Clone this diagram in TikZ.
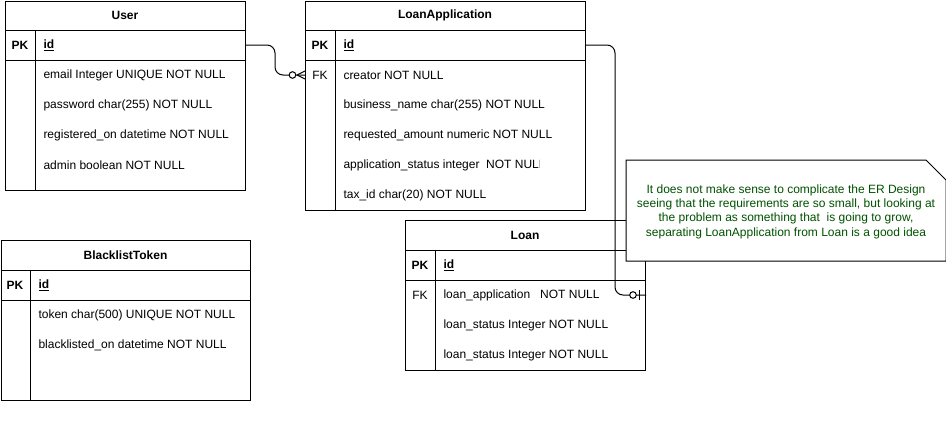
\documentclass[tikz,border=0pt]{standalone}
\usepackage{fontspec}
\setmainfont{Liberation Sans}
\definecolor{notegreen}{HTML}{005200}
\begin{document}
\begin{tikzpicture}[x=1pt,y=-1pt,line width=1pt,
  every node/.style={font=\fontsize{12}{14}\selectfont},
  tbl/.style={draw,rectangle,anchor=north west,inner sep=0pt,fill=white},
  ttl/.style={font=\fontsize{12}{14}\selectfont\bfseries,anchor=center,inner sep=0pt},
  keycol/.style={font=\fontsize{12}{14}\selectfont\bfseries,anchor=center,inner sep=0pt},
  fkcol/.style={anchor=center,inner sep=0pt},
  fld/.style={anchor=west,inner sep=0pt},
  conn/.style={line width=1pt,rounded corners=8pt},
  mk/.style={line width=1pt,fill=white}]
\useasboundingbox (0,0) rectangle (946,431);

% ---------- User ----------
\node[tbl,minimum width=240,minimum height=189] (user) at (5,1) {};
\draw (5,30) -- (245,30) (5,60) -- (245,60) (35,30) -- (35,190);
\node[ttl] (usert) at (125,15.5) {User};
\node[keycol] (userk) at (20,45.5) {PK};
\node[fld,font=\fontsize{12}{14}\selectfont\bfseries] (uid) at (43,45.5) {\underline{id}};
\node[fld] (u1) at (43,75.5) {email Integer UNIQUE NOT NULL};
\node[fld] (u2) at (43,105.5) {password char(255) NOT NULL};
\node[fld] (u3) at (43,135.5) {registered\_on datetime NOT NULL};
\node[fld] (u4) at (43,165.5) {admin boolean NOT NULL};

% ---------- LoanApplication ----------
\node[tbl,minimum width=280,minimum height=209] (la) at (305,1) {};
\draw (305,30) -- (585,30) (305,60) -- (585,60) (335,30) -- (335,210);
\node[ttl] (lat) at (445,15.5) {LoanApplication};
\node[keycol] (lak) at (320,45.5) {PK};
\node[fld,font=\fontsize{12}{14}\selectfont\bfseries] (laid) at (343,45.5) {\underline{id}};
\node[fkcol] (lafk) at (320,75.5) {FK};
\node[fld] (la1) at (343,75.5) {creator NOT NULL};
\node[fld] (la2) at (343,105.5) {business\_name char(255) NOT NULL};
\node[fld] (la3) at (343,135.5) {requested\_amount numeric NOT NULL};
\begin{scope}
\clip (336,150) rectangle (539.5,180);
\node[fld] (la4) at (343,165.5) {application\_status integer\ \ NOT NULL};
\end{scope}
\node[fld] (la5) at (343,195.5) {tax\_id char(20) NOT NULL};

% ---------- BlacklistToken ----------
\node[tbl,minimum width=249,minimum height=160] (bl) at (1,240) {};
\draw (1,270) -- (250,270) (1,300) -- (250,300) (30,270) -- (30,400);
\node[ttl] (blt) at (125.5,255.5) {BlacklistToken};
\node[keycol] (blk) at (15,285.5) {PK};
\node[fld,font=\fontsize{12}{14}\selectfont\bfseries] (blid) at (38,285.5) {\underline{id}};
\node[fld] (bl1) at (38,315.5) {token char(500) UNIQUE NOT NULL};
\node[fld] (bl2) at (38,345.5) {blacklisted\_on datetime NOT NULL};

% ---------- Loan ----------
\node[tbl,minimum width=240,minimum height=150] (loan) at (405,220) {};
\draw (405,250) -- (645,250) (405,280) -- (645,280) (435,250) -- (435,370);
\node[ttl] (loant) at (525,235.5) {Loan};
\node[keycol] (loank) at (420,265.5) {PK};
\node[fld,font=\fontsize{12}{14}\selectfont\bfseries] (loanid) at (443,265.5) {\underline{id}};
\node[fkcol] (loanfk) at (420,295.5) {FK};
\node[fld] (lo1) at (443,295.5) {loan\_application\ \ \ NOT NULL};
\node[fld] (lo2) at (443,325.5) {loan\_status Integer NOT NULL};
\node[fld] (lo3) at (443,355.5) {loan\_status Integer NOT NULL};

% ---------- connectors ----------
% User 1 -- 0..n LoanApplication
\coordinate (c1s) at (user.east |- 0,45);
\coordinate (c1e) at (la.west |- 0,75);
\draw[conn] (c1s) -- (275,45) -- (275,75) -- (c1e);
\draw (297,75) -- (c1e |- 0,71) (297,75) -- (c1e |- 0,79);
\draw[mk] (292.5,75) circle (3.3);
% LoanApplication 1 -- 0..1 Loan
\coordinate (c2s) at (la.east |- 0,45);
\coordinate (c2e) at (loan.east |- 0,295);
\draw[conn] (c2s) -- (615,45) -- (615,295) -- (c2e);
\draw (639,290) -- (639,300);
\draw[mk] (633,295) circle (3.3);

% ---------- note ----------
\node[inner sep=0pt,minimum width=319,minimum height=100,anchor=north west] (note) at (626,160) {};
\draw[fill=white] (note.north west) -- ([xshift=-20pt]note.north east) -- ([yshift=-20pt]note.north east) -- (note.south east) -- (note.south west) -- cycle;
\node[align=center,text=notegreen,inner sep=0pt,font=\fontsize{12}{14.3}\selectfont] (notetext) at ([yshift=-1pt]note.center) {It does not make sense to complicate the ER Design\\seeing that the requirements are so small, but looking at\\the problem as something that\ \ is going to grow,\\separating LoanApplication from Loan is a good idea};
\end{tikzpicture}
\end{document}
